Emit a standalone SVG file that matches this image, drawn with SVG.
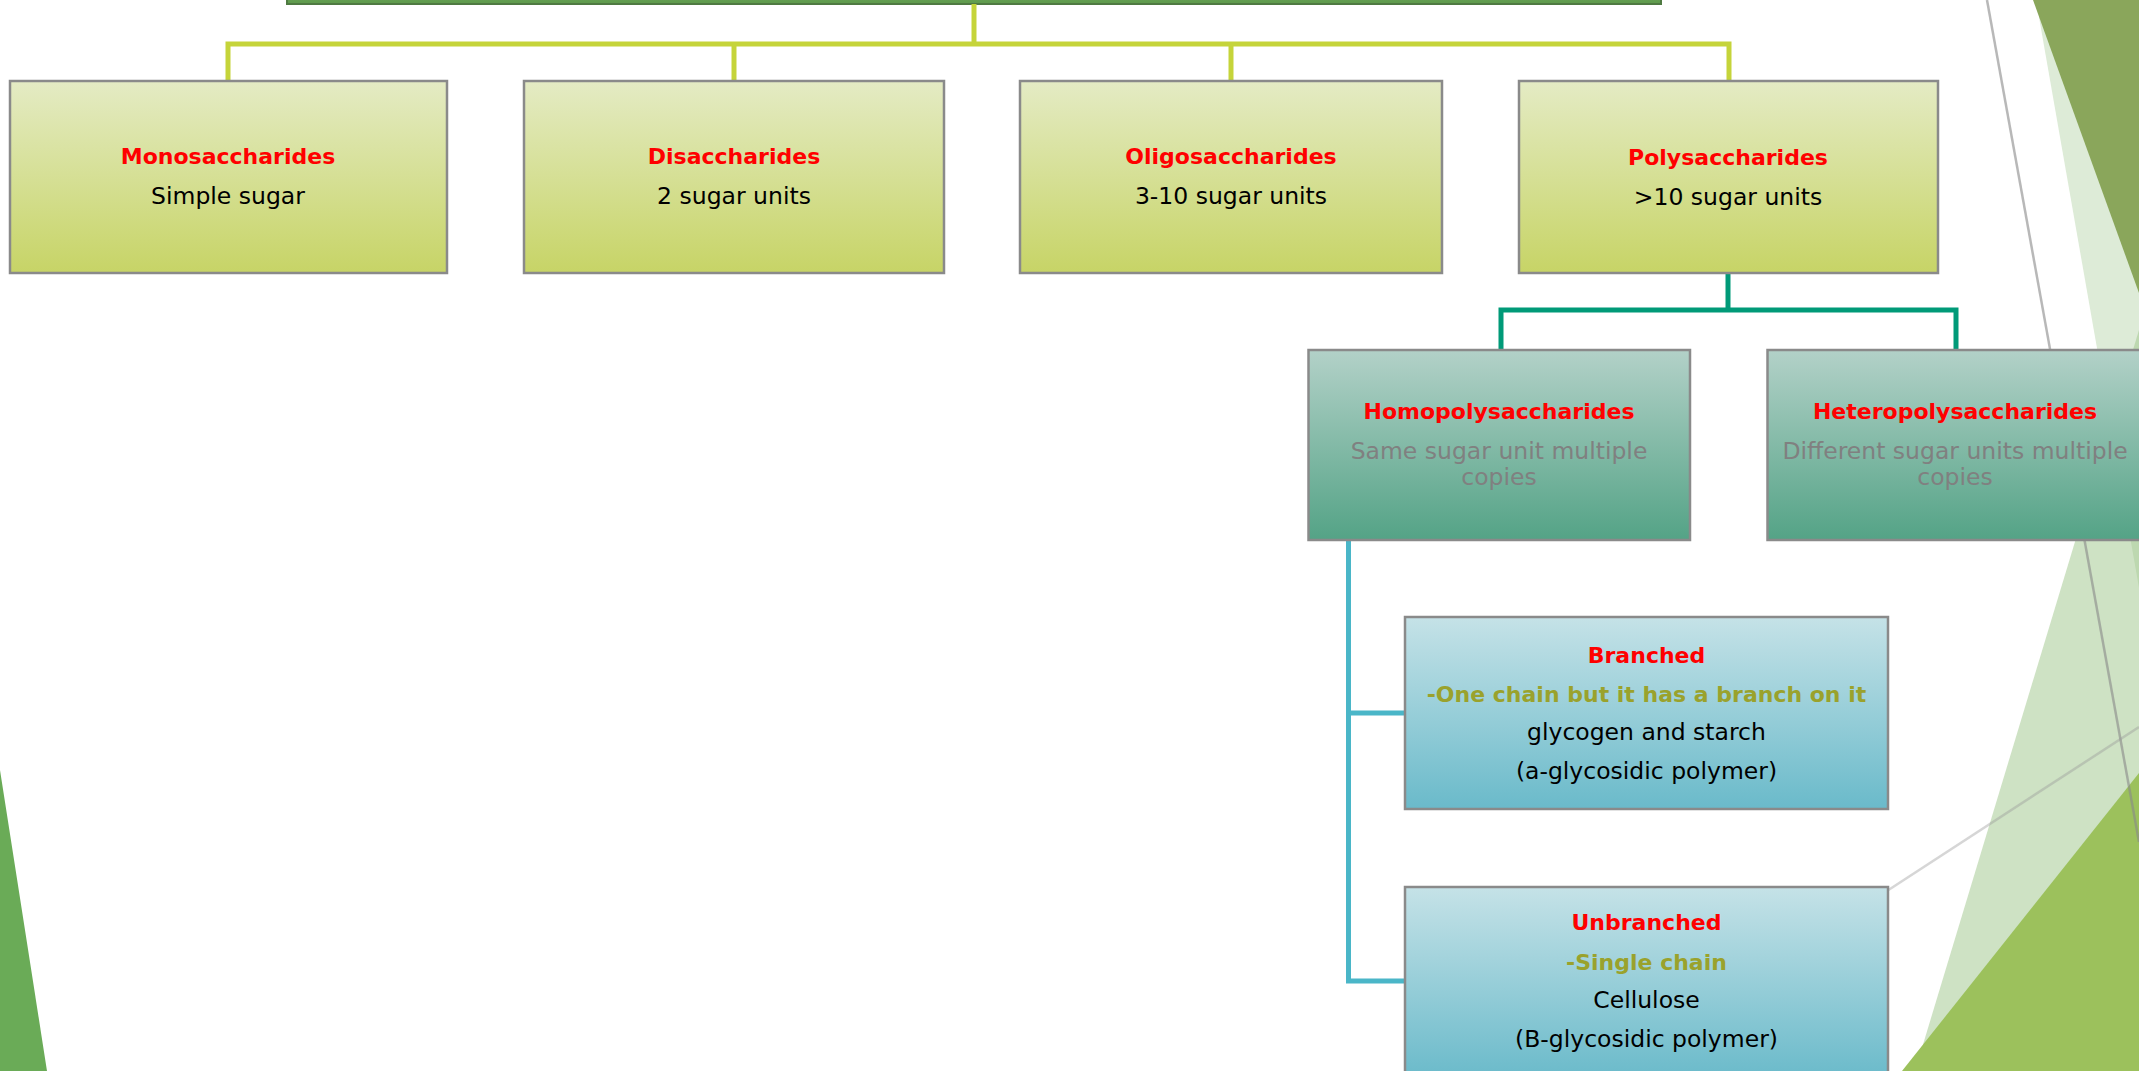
<svg xmlns="http://www.w3.org/2000/svg" width="2139" height="1071" viewBox="0 0 2139 1071">
  <defs>
    <linearGradient id="gGreen" x1="0" y1="0" x2="0" y2="1">
      <stop offset="0" stop-color="#E4EBC4"/>
      <stop offset="1" stop-color="#C7D466"/>
    </linearGradient>
    <linearGradient id="gTeal" x1="0" y1="0" x2="0" y2="1">
      <stop offset="0" stop-color="#B3D1C8"/>
      <stop offset="1" stop-color="#54A386"/>
    </linearGradient>
    <linearGradient id="gBlue" x1="0" y1="0" x2="0" y2="1">
      <stop offset="0" stop-color="#C5E2E7"/>
      <stop offset="1" stop-color="#6ABACA"/>
    </linearGradient>
    <linearGradient id="gTop" x1="0" y1="0" x2="0" y2="1">
      <stop offset="0" stop-color="#7DB26A"/>
      <stop offset="1" stop-color="#5E9A4C"/>
    </linearGradient>
    <style>
      .box { stroke: #8a8a8a; stroke-width: 2.5; }
      .green { fill: url(#gGreen); }
      .teal { fill: url(#gTeal); }
      .blue { fill: url(#gBlue); }
      text { font-family: "DejaVu Sans", "Liberation Sans", sans-serif; text-anchor: middle; }
      .t { font-weight: bold; font-size: 22px; fill: #FF0000; }
      .s { font-size: 23.5px; fill: #000000; }
      .g { font-size: 23.5px; fill: #808080; }
      .o { font-weight: bold; font-size: 22px; fill: #9AA22C; }
      .conn { fill: none; stroke-width: 5; stroke-linejoin: miter; stroke-linecap: butt; }
    </style>
  </defs>

  <rect x="0" y="0" width="2139" height="1071" fill="#FFFFFF"/>

  <g id="background">
    <polygon points="0,770 47,1071 0,1071" fill="#6AAB57"/>
    <polygon points="2036,0 2139,0 2139,588" fill="#DDEBD7"/>
    <polygon points="2033,0 2139,0 2139,293" fill="#8AA65B"/>
    <polygon points="2139,330 1915,1071 2139,1071" fill="#9DC58A" fill-opacity="0.5"/>
    <polygon points="2139,773 1902,1071 2139,1071" fill="#9CC15C"/>
    <line x1="1987" y1="0" x2="2139" y2="842" stroke="#888888" stroke-opacity="0.6" stroke-width="2.5"/>
    <line x1="1870" y1="902" x2="2139" y2="727" stroke="#999999" stroke-opacity="0.4" stroke-width="2.5"/>
  </g>

  <g id="top-node">
    <rect x="287" y="-20" width="1374" height="24" fill="url(#gTop)" stroke="#4F7A42" stroke-width="2"/>
  </g>

  <g id="connectors">
    <path class="conn" stroke="#C5D43A" d="M974,4 V44"/>
    <path class="conn" stroke="#C5D43A" d="M228,81 V44 H1729 V81"/>
    <path class="conn" stroke="#C5D43A" d="M734,44 V81"/>
    <path class="conn" stroke="#C5D43A" d="M1231,44 V81"/>
    <path class="conn" stroke="#009A78" d="M1728,272 V310"/>
    <path class="conn" stroke="#009A78" d="M1501,350 V310 H1956 V350"/>
    <path class="conn" stroke="#4AB6C8" d="M1348.5,540 V981 H1405"/>
    <path class="conn" stroke="#4AB6C8" d="M1348.5,713 H1405"/>
  </g>

  <g id="monosaccharides">
    <rect class="box green" x="10" y="81" width="437" height="192"/>
    <text class="t" x="228" y="164">Monosaccharides</text>
    <text class="s" x="228" y="204">Simple sugar</text>
  </g>

  <g id="disaccharides">
    <rect class="box green" x="524" y="81" width="420" height="192"/>
    <text class="t" x="734" y="164">Disaccharides</text>
    <text class="s" x="734" y="204">2 sugar units</text>
  </g>

  <g id="oligosaccharides">
    <rect class="box green" x="1020" y="81" width="422" height="192"/>
    <text class="t" x="1231" y="164">Oligosaccharides</text>
    <text class="s" x="1231" y="204">3-10 sugar units</text>
  </g>

  <g id="polysaccharides">
    <rect class="box green" x="1519" y="81" width="419" height="192"/>
    <text class="t" x="1728" y="165">Polysaccharides</text>
    <text class="s" x="1728" y="205">&gt;10 sugar units</text>
  </g>

  <g id="homopolysaccharides">
    <rect class="box teal" x="1308.5" y="350" width="381.5" height="190"/>
    <text class="t" x="1499" y="419">Homopolysaccharides</text>
    <text class="g" x="1499" y="459">Same sugar unit multiple</text>
    <text class="g" x="1499" y="485">copies</text>
  </g>

  <g id="heteropolysaccharides">
    <rect class="box teal" x="1767.5" y="350" width="376" height="190"/>
    <text class="t" x="1955" y="419">Heteropolysaccharides</text>
    <text class="g" x="1955" y="459">Different sugar units multiple</text>
    <text class="g" x="1955" y="485">copies</text>
  </g>

  <g id="branched">
    <rect class="box blue" x="1405" y="617" width="483" height="192"/>
    <text class="t" x="1646.5" y="663">Branched</text>
    <text class="o" x="1646.5" y="702">-One chain but it has a branch on it</text>
    <text class="s" x="1646.5" y="740">glycogen and starch</text>
    <text class="s" x="1646.5" y="779">(a-glycosidic polymer)</text>
  </g>

  <g id="unbranched">
    <rect class="box blue" x="1405" y="887" width="483" height="192"/>
    <text class="t" x="1646.5" y="930">Unbranched</text>
    <text class="o" x="1646.5" y="970">-Single chain</text>
    <text class="s" x="1646.5" y="1008">Cellulose</text>
    <text class="s" x="1646.5" y="1047">(B-glycosidic polymer)</text>
  </g>
</svg>
